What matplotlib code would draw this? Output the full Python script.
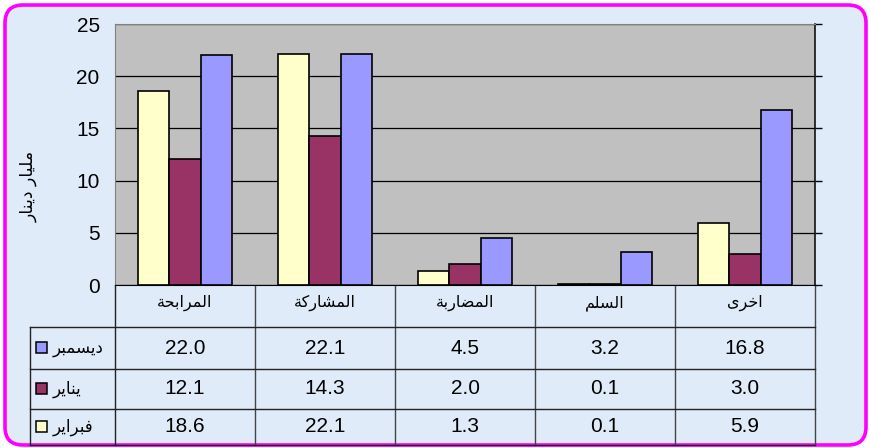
import matplotlib
matplotlib.use("Agg")
import matplotlib.pyplot as plt
from matplotlib.patches import FancyBboxPatch, Rectangle
import numpy as np

# data
categories = ["المرابحة", "المشاركة", "المضاربة", "السلم", "اخرى"]
series_names = ["ديسمبر", "يناير", "فبراير"]
dec = [22.0, 22.1, 4.5, 3.2, 16.8]
jan = [12.1, 14.3, 2.0, 0.1, 3.0]
feb = [18.6, 22.1, 1.3, 0.1, 5.9]
y_label = "مليار دينار"
y_ticks = [0, 5, 10, 15, 20, 25]

col_dec = "#9999ff"
col_jan = "#993366"
col_feb = "#ffffcc"

# simple arabic shaping (presentation forms) -> visual order
FORMS = {
    "ا": ("\uFE8D", "\uFE8E", None, None),
    "ب": ("\uFE8F", "\uFE90", "\uFE91", "\uFE92"),
    "ة": ("\uFE93", "\uFE94", None, None),
    "ح": ("\uFEA1", "\uFEA2", "\uFEA3", "\uFEA4"),
    "خ": ("\uFEA5", "\uFEA6", "\uFEA7", "\uFEA8"),
    "د": ("\uFEA9", "\uFEAA", None, None),
    "ر": ("\uFEAD", "\uFEAE", None, None),
    "س": ("\uFEB1", "\uFEB2", "\uFEB3", "\uFEB4"),
    "ش": ("\uFEB5", "\uFEB6", "\uFEB7", "\uFEB8"),
    "ض": ("\uFEBD", "\uFEBE", "\uFEBF", "\uFEC0"),
    "ف": ("\uFED1", "\uFED2", "\uFED3", "\uFED4"),
    "ك": ("\uFED9", "\uFEDA", "\uFEDB", "\uFEDC"),
    "ل": ("\uFEDD", "\uFEDE", "\uFEDF", "\uFEE0"),
    "م": ("\uFEE1", "\uFEE2", "\uFEE3", "\uFEE4"),
    "ن": ("\uFEE5", "\uFEE6", "\uFEE7", "\uFEE8"),
    "ى": ("\uFEEF", "\uFEF0", None, None),
    "ي": ("\uFEF1", "\uFEF2", "\uFEF3", "\uFEF4"),
}


def shape(s):
    out = []
    for i, c in enumerate(s):
        if c not in FORMS:
            out.append(c)
            continue
        iso, fin, ini, med = FORMS[c]
        prev = s[i - 1] if i > 0 else ""
        nxt = s[i + 1] if i + 1 < len(s) else ""
        pj = prev in FORMS and FORMS[prev][2] is not None
        nj = nxt in FORMS and ini is not None
        if pj and nj:
            out.append(med)
        elif pj:
            out.append(fin)
        elif nj:
            out.append(ini)
        else:
            out.append(iso)
    return "".join(reversed(out))


plt.rcParams["font.family"] = ["Liberation Sans", "DejaVu Sans"]

W, H = 871, 448
fig = plt.figure(figsize=(W / 100, H / 100), dpi=100)
fig.patch.set_facecolor("white")

# background layer in pixel coords
bg = fig.add_axes([0, 0, 1, 1])
bg.set_xlim(0, W)
bg.set_ylim(H, 0)
bg.axis("off")
bg.add_patch(FancyBboxPatch((5, 5), W - 10, H - 8,
                            boxstyle="round,pad=0,rounding_size=18",
                            facecolor="#dfebf8", edgecolor="#ff00ff", lw=2.6))

# plot area
x0, x1, ytop, ybot = 115, 815, 24, 285
ax = fig.add_axes([x0 / W, (H - ybot) / H, (x1 - x0) / W, (ybot - ytop) / H])
ax.set_facecolor("#c0c0c0")
ax.set_xlim(0, len(categories))
ax.set_ylim(0, 25)

xs = np.arange(len(categories)) + 0.5
bw = 0.225
kw = dict(width=bw, edgecolor="black", linewidth=1.2)
ax.bar(xs - bw, feb, color=col_feb, **kw)
ax.bar(xs, jan, color=col_jan, **kw)
ax.bar(xs + bw, dec, color=col_dec, **kw)

ax.set_yticks(y_ticks)
ax.yaxis.grid(True, color="black", lw=0.9)
ax.set_axisbelow(True)
ax.set_xticks([])
ax.tick_params(axis="y", left=False, right=True, labelleft=True, labelright=False,
               direction="out", length=5, width=1, pad=6, labelsize=15)
for s in ["top", "left"]:
    ax.spines[s].set_color("#808080")
for s in ["right", "bottom"]:
    ax.spines[s].set_color("black")
ax.spines["right"].set_linewidth(1.1)

# y label
bg.text(29, 186, shape(y_label), rotation=90, ha="center", va="center",
        fontsize=12.5, family="DejaVu Sans")

# data table
col_w = (x1 - x0) / len(categories)
row_edges = [327, 369, 409, 445]
lc = "#222222"
bg.plot([x0, x0], [ybot, row_edges[-1]], color=lc, lw=1)
for j in range(1, len(categories) + 1):
    bg.plot([x0 + j * col_w] * 2, [ybot, row_edges[-1]], color="#444444", lw=1)
bg.plot([30, 30], [row_edges[0], row_edges[-1]], color=lc, lw=1)
for y in row_edges:
    bg.plot([30, x1], [y, y], color=lc, lw=1)

for j, cat in enumerate(categories):
    bg.text(x0 + (j + 0.5) * col_w, 303, shape(cat), ha="center", va="center",
            fontsize=11.5, family="DejaVu Sans")

rows = [(series_names[0], dec, col_dec), (series_names[1], jan, col_jan),
        (series_names[2], feb, col_feb)]
for r, (name, vals, col) in enumerate(rows):
    yc = (row_edges[r] + row_edges[r + 1]) / 2
    bg.add_patch(Rectangle((36, yc - 5.5), 11, 11, facecolor=col,
                           edgecolor="black", lw=1.1))
    bg.text(53, yc, shape(name), ha="left", va="center", fontsize=12,
            family="DejaVu Sans")
    for j, v in enumerate(vals):
        bg.text(x0 + (j + 0.5) * col_w, yc, f"{v:.1f}", ha="center",
                va="center", fontsize=15)

fig.savefig("out.png", dpi=100)
